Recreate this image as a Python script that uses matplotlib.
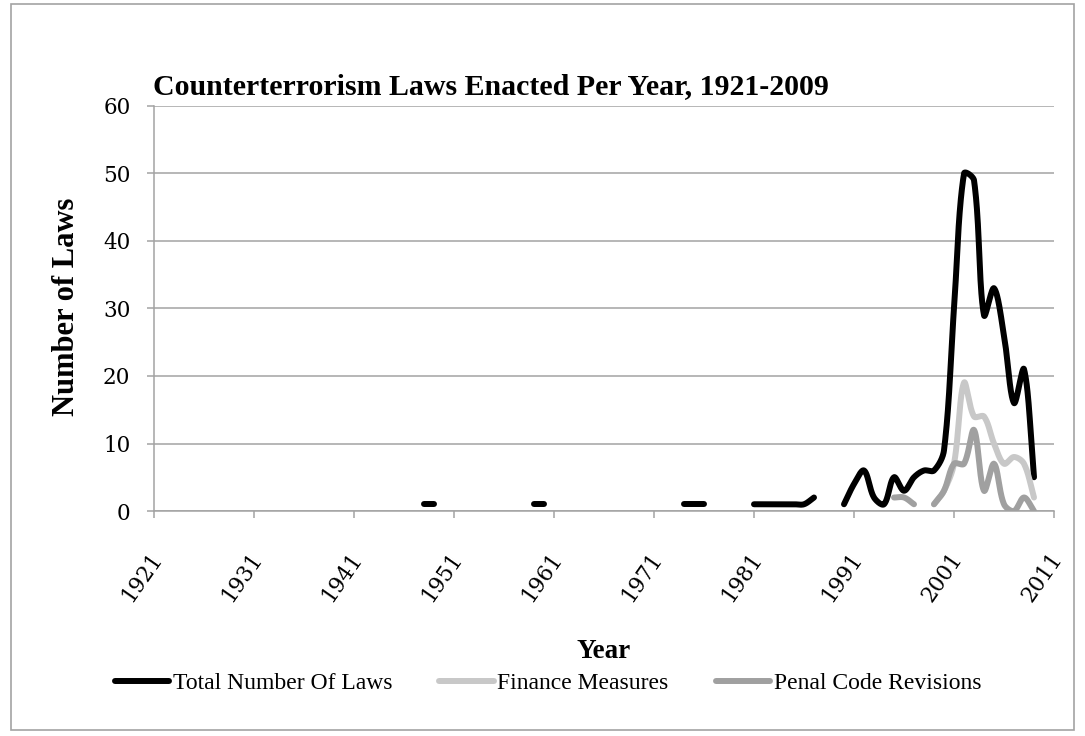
import numpy as np
import matplotlib
matplotlib.use("Agg")
import matplotlib.pyplot as plt
import matplotlib.transforms as mtransforms
from matplotlib.lines import Line2D
from matplotlib.patches import Rectangle

# ---- data (years with no laws are left out, which breaks the line) ----
total_years = [1948, 1949, 1959, 1960, 1974, 1975, 1976,
               1981, 1982, 1983, 1984, 1985, 1986, 1987,
               1990, 1991, 1992, 1993, 1994, 1995, 1996, 1997, 1998, 1999,
               2000, 2001, 2002, 2003, 2004, 2005, 2006, 2007, 2008, 2009]
total_laws = [1, 1, 1, 1, 1, 1, 1,
              1, 1, 1, 1, 1, 1, 2,
              1, 4, 6, 2, 1, 5, 3, 5, 6, 6,
              9, 30, 50, 49, 29, 33, 26, 16, 21, 5]

finance_years = [1999, 2000, 2001, 2002, 2003, 2004, 2005, 2006, 2007, 2008, 2009]
finance_laws = [1, 3, 7, 19, 14, 14, 10, 7, 8, 7, 2]

penal_years = [1995, 1996, 1997,
               1999, 2000, 2001, 2002, 2003, 2004, 2005, 2006, 2007, 2008, 2009]
penal_laws = [2, 2, 1,
              1, 3, 7, 7, 12, 3, 7, 1, 0, 2, 0]

series_names = ["Total Number Of Laws", "Finance Measures", "Penal Code Revisions"]
series_colors = ["#000000", "#c8c8c8", "#a0a0a0"]

x_ticks = list(range(1921, 2012, 10))
y_ticks = [0, 10, 20, 30, 40, 50, 60]

TITLE = "Counterterrorism Laws Enacted Per Year, 1921-2009"
SERIF = ["Liberation Serif", "DejaVu Serif"]
TICKFONT = ["DejaVu Serif"]
GRID = "#a3a3a3"


def smooth_runs(ax, xs, ys, steps=40):
    """Split into runs of consecutive years and smooth each run with cubic
    Bezier segments whose control arms are scaled by on-screen chord length."""
    xs = np.asarray(xs, float)
    ys = np.asarray(ys, float)
    breaks = np.where(np.diff(xs) > 1)[0] + 1
    to_disp = ax.transData
    to_data = ax.transData.inverted()
    runs = []
    for rx, ry in zip(np.split(xs, breaks), np.split(ys, breaks)):
        pts = to_disp.transform(np.column_stack([rx, ry]))
        n = len(pts)
        if n == 1:
            runs.append((rx, ry))
            continue
        out = [pts[:1]]
        t = np.linspace(0, 1, steps)[1:, None]
        for i in range(n - 1):
            p0 = pts[i - 1] if i > 0 else pts[i]
            p1, p2 = pts[i], pts[i + 1]
            p3 = pts[i + 2] if i + 2 < n else pts[i + 1]
            d01 = np.hypot(*(p1 - p0))
            d12 = np.hypot(*(p2 - p1))
            d23 = np.hypot(*(p3 - p2))
            k1 = d12 / (d01 + d12) if d01 + d12 > 0 else 0.0
            k2 = d12 / (d12 + d23) if d12 + d23 > 0 else 0.0
            c1 = p1 + (p2 - p0) * k1 / 3.0
            c2 = p2 - (p3 - p1) * k2 / 3.0
            seg = ((1 - t) ** 3) * p1 + 3 * ((1 - t) ** 2) * t * c1 \
                + 3 * (1 - t) * t ** 2 * c2 + t ** 3 * p2
            out.append(seg)
        arr = to_data.transform(np.vstack(out))
        runs.append((arr[:, 0], arr[:, 1]))
    return runs


fig = plt.figure(figsize=(10.85, 7.36), dpi=100)
W, H = 1085.0, 736.0

# outer chart border
fig.patches.append(Rectangle((11 / W, 1 - 730 / H), (1074 - 11) / W, (730 - 4) / H,
                             transform=fig.transFigure, fill=False,
                             edgecolor=GRID, linewidth=1.2))

ax = fig.add_axes([154 / W, 1 - 511 / H, 900 / W, 405 / H])
ax.set_xlim(1921, 2011)
ax.set_ylim(0, 60)

LW = 4.3
for (xs, ys), color in zip([(total_years, total_laws),
                            (finance_years, finance_laws),
                            (penal_years, penal_laws)], series_colors):
    for sx, sy in smooth_runs(ax, xs, ys):
        ax.plot(sx, sy, color=color, lw=LW, solid_capstyle="round",
                solid_joinstyle="round", zorder=3)

ax.set_xlim(1921, 2011)
ax.set_ylim(0, 60)
ax.set_xticks(x_ticks)
ax.set_yticks(y_ticks)
ax.set_xticklabels([str(v) for v in x_ticks], rotation=55, ha="right",
                   va="center", rotation_mode="anchor",
                   family=TICKFONT, fontsize=15.5)
ax.set_yticklabels([str(v) for v in y_ticks], family=TICKFONT, fontsize=15.5)
ax.tick_params(axis="x", direction="out", length=5, width=1.1, color=GRID, pad=26.5)
ax.tick_params(axis="y", direction="out", length=5, width=1.1, color=GRID, pad=12)
offset = mtransforms.ScaledTranslation(4 / 100, 0, fig.dpi_scale_trans)
for lab in ax.get_xticklabels():
    lab.set_transform(lab.get_transform() + offset)

ax.grid(axis="y", color=GRID, linewidth=1.1)
ax.set_axisbelow(True)
for side in ("top", "right"):
    ax.spines[side].set_visible(False)
for side in ("left", "bottom"):
    ax.spines[side].set_color(GRID)
    ax.spines[side].set_linewidth(1.1)

ax.set_xlabel("Year", family=SERIF, fontweight="bold", fontsize=19.5)
ax.xaxis.set_label_coords(0.5, (511 - 651) / 405.0)
ax.xaxis.label.set_va("center")
ax.set_ylabel("Number of Laws", family=SERIF, fontweight="bold", fontsize=22)
ax.yaxis.set_label_coords((67 - 154) / 900.0, (511 - 307) / 405.0)
ax.yaxis.label.set_va("center")

fig.text(153 / W, 1 - 87 / H, TITLE, family=SERIF, fontweight="bold",
         fontsize=21.5, ha="left", va="center")

handles = [Line2D([], [], color=c, lw=LW, solid_capstyle="round") for c in series_colors]
fig.legend(handles, series_names, loc="center", bbox_to_anchor=(0.505, 1 - 683 / H),
           ncol=3, frameon=False, prop={"family": SERIF, "size": 17},
           handlelength=2.3, handletextpad=0.15, columnspacing=2.0)

fig.savefig("out.png", dpi=100)
